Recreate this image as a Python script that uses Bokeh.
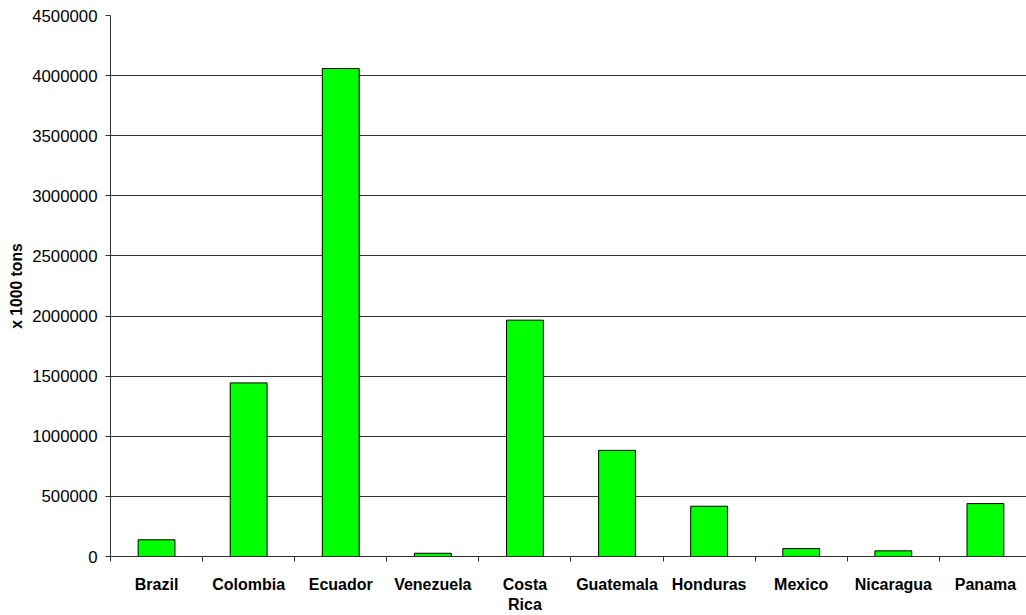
from bokeh.plotting import figure
from bokeh.models import FixedTicker, Range1d, BasicTickFormatter
from bokeh.embed import file_html
from bokeh.resources import INLINE

# Banana production by country (x 1000 tons)
countries = ["Brazil", "Colombia", "Ecuador", "Venezuela", "Costa\nRica",
             "Guatemala", "Honduras", "Mexico", "Nicaragua", "Panama"]
production = [139000, 1444000, 4059000, 27000, 1966000,
              883000, 418000, 66000, 47000, 440000]
y_ticks = [0, 500000, 1000000, 1500000, 2000000, 2500000,
           3000000, 3500000, 4000000, 4500000]

n = len(countries)
centers = [i + 0.5 for i in range(n)]
boundaries = [float(i) for i in range(n)]

FONT = "Liberation Sans"
AXIS_COLOR = "#333333"

p = figure(width=1026, height=615, output_backend="svg", toolbar_location=None,
           x_range=Range1d(0, 9.946), y_range=Range1d(0, 4500000),
           min_border_left=110, min_border_right=0,
           min_border_top=15, min_border_bottom=58)
p.outline_line_color = None
p.background_fill_color = "white"
p.border_fill_color = "white"

p.vbar(x=centers, top=production, width=0.4,
       fill_color="#00ff00", line_color="black", line_width=1)

# category axis: labels at bar centres, tick marks at category boundaries
xa = p.xaxis[0]
xa.ticker = FixedTicker(ticks=centers, minor_ticks=boundaries)
xa.major_label_overrides = {c: name for c, name in zip(centers, countries)}
xa.major_tick_out = 0
xa.major_tick_in = 0
xa.minor_tick_out = 5
xa.minor_tick_in = 0
xa.minor_tick_line_color = AXIS_COLOR
xa.axis_line_color = AXIS_COLOR
xa.major_label_text_font = FONT
xa.major_label_text_font_style = "bold"
xa.major_label_text_font_size = "16px"
xa.major_label_text_color = "black"
xa.major_label_standoff = 14

ya = p.yaxis[0]
ya.ticker = FixedTicker(ticks=y_ticks, minor_ticks=[])
ya.formatter = BasicTickFormatter(use_scientific=False)
ya.major_tick_out = 5
ya.major_tick_in = 0
ya.major_tick_line_color = AXIS_COLOR
ya.axis_line_color = AXIS_COLOR
ya.major_label_text_font = FONT
ya.major_label_text_font_size = "16.8px"
ya.major_label_text_color = "black"
ya.major_label_standoff = 8
ya.axis_label = "x 1000 tons"
ya.axis_label_text_font = FONT
ya.axis_label_text_font_style = "bold"
ya.axis_label_text_font_size = "15.7px"
ya.axis_label_text_color = "black"
ya.axis_label_standoff = 4

p.xgrid.grid_line_color = None
p.ygrid.ticker = FixedTicker(ticks=y_ticks)
p.ygrid.grid_line_color = AXIS_COLOR
p.ygrid.grid_line_width = 1

open("out.html", "w").write(file_html(p, INLINE))
